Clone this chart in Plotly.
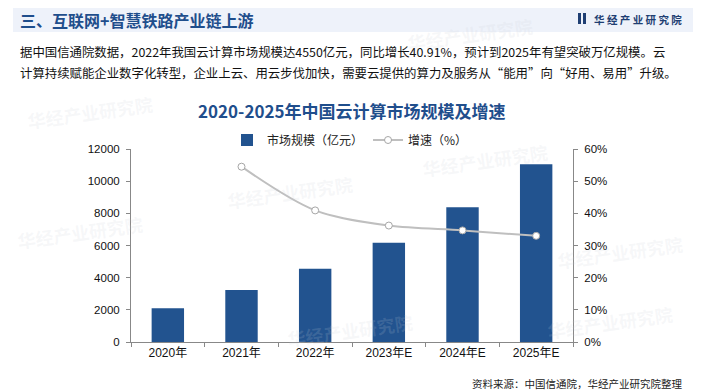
import plotly.graph_objects as go

years = ["2020年", "2021年", "2022年", "2023年E", "2024年E", "2025年E"]
market_size = [2091, 3229, 4550, 6165, 8378, 11050]
growth_years = ["2021年", "2022年", "2023年E", "2024年E", "2025年E"]
growth_rate = [0.545, 0.4091, 0.362, 0.347, 0.330]

# page body has an 8px default margin: size the figure so it fills the window
OFF = 8
W, H = 705 - OFF, 392 - OFF
L, R, T, B = 131, 573, 149, 342  # plot area in window px


def px(x):
    return (x - L) / (R - L)


def py(y):
    return (B - y) / (B - T)


CJK = "Noto Sans CJK SC"
NUM = "Liberation Sans, Arial, Noto Sans CJK SC"
BLUE = "#22538F"

fig = go.Figure()
fig.add_trace(go.Bar(
    x=years, y=market_size, name="市场规模（亿元）",
    marker=dict(color=BLUE, line=dict(width=0)), yaxis="y",
))
fig.add_trace(go.Scatter(
    x=growth_years, y=growth_rate, name="增速（%）", yaxis="y2",
    mode="lines+markers",
    line=dict(color="#BFBFBF", width=2, shape="spline", smoothing=0.9),
    marker=dict(symbol="circle", size=7, color="white",
                line=dict(color="#A6A6A6", width=1)),
))

shapes = [
    dict(type="rect", xref="paper", yref="paper", x0=px(13), x1=px(693),
         y0=py(6), y1=py(32), fillcolor="#EEF2FA", line=dict(width=0), layer="below"),
    dict(type="rect", xref="paper", yref="paper", x0=px(578), x1=px(581),
         y0=py(13), y1=py(24), fillcolor="#1F3F73", line=dict(width=0)),
    dict(type="rect", xref="paper", yref="paper", x0=px(583), x1=px(586),
         y0=py(13), y1=py(24), fillcolor="#1F3F73", line=dict(width=0)),
]


def ann(text, x, y, xanchor, size, color, family=CJK, angle=0):
    return dict(text=text, x=px(x), y=py(y), xref="paper", yref="paper",
                xanchor=xanchor, yanchor="middle", showarrow=False, textangle=angle,
                font=dict(family=family, size=size, color=color))


annotations = []
# faint watermarks (drawn first)
wm = [(90, 112), (290, 192), (485, 160), (620, 252), (80, 232), (350, 330), (610, 322), (470, 34)]
for (wx, wy) in wm:
    annotations.append(ann("<b>华经产业研究院</b>", wx, wy, "center", 18,
                           "rgba(200,205,215,0.16)", angle=-8))

annotations += [
    ann("<b>三、互联网+智慧铁路产业链上游</b>", 18, 20, "left", 16, "#1F4E8C"),
    ann("<b>华 经 产 业 研 究 院</b>", 592, 19, "left", 10.5, "#1F3F73"),
    ann("据中国信通院数据，2022年我国云计算市场规模达4550亿元，同比增长40.91%，预计到2025年有望突破万亿规模。云",
        18, 52, "left", 12.4, "#111111"),
    ann("计算持续赋能企业数字化转型，企业上云、用云步伐加快，需要云提供的算力及服务从“能用”向“好用、易用”升级。",
        18, 73, "left", 12.4, "#111111"),
    ann("<b>2020-2025年中国云计算市场规模及增速</b>", 352, 110, "center", 17, "#1F4E8C"),
    ann("资料来源：中国信通院，华经产业研究院整理", 684, 383, "right", 10.5, "#222222"),
]

fig.update_layout(
    width=W, height=H,
    margin=dict(l=L - OFF, r=(W + OFF) - R, t=T - OFF, b=(H + OFF) - B),
    paper_bgcolor="white", plot_bgcolor="rgba(0,0,0,0)",
    bargap=0.56,
    showlegend=True,
    legend=dict(orientation="h", x=px(350), y=py(140), xanchor="center", yanchor="middle",
                font=dict(family=CJK, size=12, color="#222222"),
                tracegroupgap=0, bgcolor="rgba(0,0,0,0)"),
    xaxis=dict(showline=True, linecolor="#888888", linewidth=1,
               ticks="outside", tickson="boundaries", ticklen=4, tickcolor="#888888",
               tickfont=dict(family=NUM, size=12, color="#111111"),
               showgrid=False, zeroline=False),
    yaxis=dict(range=[0, 12000], dtick=2000, tickformat="d", showline=True,
               linecolor="#888888", linewidth=1, ticks="outside", ticklen=4,
               tickcolor="#888888",
               tickfont=dict(family=NUM, size=11.5, color="#111111"),
               showgrid=False, zeroline=False, ticklabelstandoff=4),
    yaxis2=dict(range=[0, 0.6], dtick=0.1, tickformat=".0%", overlaying="y", side="right",
                showline=True, linecolor="#888888", linewidth=1, ticks="outside",
                ticklen=4, tickcolor="#888888",
                tickfont=dict(family=NUM, size=11.5, color="#111111"),
                showgrid=False, zeroline=False, ticklabelstandoff=4),
    shapes=shapes,
    annotations=annotations,
)

fig.write_html("out.html")
